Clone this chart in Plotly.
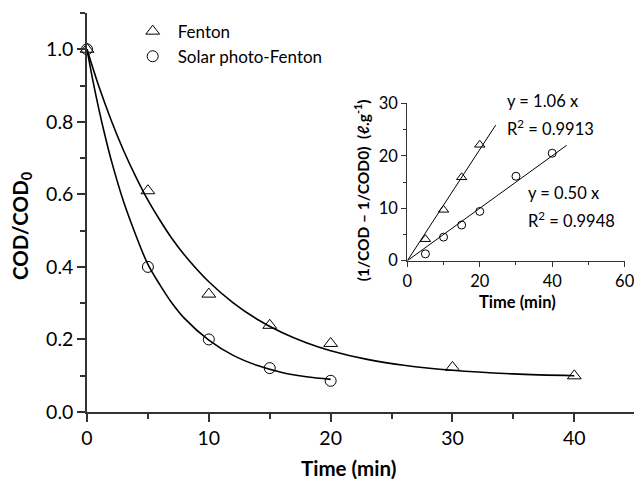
import plotly.graph_objects as go

# ---- main plot data ----
time_fenton = [0, 5, 10, 15, 20, 30, 40]
cod_fenton = [1.0, 0.61, 0.325, 0.239, 0.189, 0.123, 0.0997]
time_solar = [0, 5, 10, 15, 20]
cod_solar = [1.0, 0.40, 0.200, 0.121, 0.086]

# fitted curves
fit_fenton_t = [0, 1, 2, 3, 4, 5, 6, 7, 8, 10, 12, 14, 16, 18, 20, 23, 26, 30, 35, 40]
fit_fenton_y = [1.0, 0.895, 0.803, 0.721, 0.649, 0.584, 0.528, 0.477, 0.433, 0.359, 0.301,
                0.255, 0.219, 0.191, 0.169, 0.145, 0.129, 0.115, 0.105, 0.100]
fit_solar_t = [0, 0.5, 1, 1.5, 2, 3, 4, 5, 6, 7, 8, 10, 12, 14, 16, 18, 20]
fit_solar_y = [1.0, 0.911, 0.831, 0.759, 0.693, 0.580, 0.488, 0.407, 0.350, 0.299, 0.258,
               0.198, 0.156, 0.128, 0.109, 0.097, 0.090]

# ---- inset data ----
inset_t_fenton = [5, 10, 15, 20]
inset_v_fenton = [4.1, 9.7, 15.9, 22.1]
inset_t_solar = [5, 10, 15, 20, 30, 40]
inset_v_solar = [1.3, 4.5, 6.8, 9.4, 16.1, 20.5]
slope_fenton = 1.06
slope_solar = 0.50
line_t_fenton = [0, 24.4]
line_t_solar = [0, 44]

main_xticks = [0, 10, 20, 30, 40]
main_yticks = [0, 0.2, 0.4, 0.6, 0.8, 1.0]
inset_xticks = [0, 20, 40, 60]
inset_yticks = [0, 10, 20, 30]

FONT = "Lato"
AX = "#333333"

fig = go.Figure()

fig.add_trace(go.Scatter(x=fit_fenton_t, y=fit_fenton_y, mode="lines", line=dict(color="black", width=1.6, shape="spline"),
                         showlegend=False, hoverinfo="skip"))
fig.add_trace(go.Scatter(x=fit_solar_t, y=fit_solar_y, mode="lines", line=dict(color="black", width=1.6, shape="spline"),
                         showlegend=False, hoverinfo="skip"))
fig.add_trace(go.Scatter(x=time_fenton, y=cod_fenton, mode="markers", name="Fenton",
                         marker=dict(symbol="triangle-up-open", size=12, color="black", line=dict(width=1)),
                         cliponaxis=False))
fig.add_trace(go.Scatter(x=time_solar, y=cod_solar, mode="markers", name="Solar photo-Fenton",
                         marker=dict(symbol="circle-open", size=11, color="black", line=dict(width=1)),
                         cliponaxis=False))

# inset
fig.add_trace(go.Scatter(x=line_t_fenton, y=[slope_fenton * t for t in line_t_fenton], mode="lines",
                         line=dict(color="black", width=1), xaxis="x2", yaxis="y2", showlegend=False))
fig.add_trace(go.Scatter(x=line_t_solar, y=[slope_solar * t for t in line_t_solar], mode="lines",
                         line=dict(color="black", width=1), xaxis="x2", yaxis="y2", showlegend=False))
fig.add_trace(go.Scatter(x=inset_t_fenton, y=inset_v_fenton, mode="markers",
                         marker=dict(symbol="triangle-up-open", size=9, color="black", line=dict(width=1)),
                         xaxis="x2", yaxis="y2", showlegend=False, cliponaxis=False))
fig.add_trace(go.Scatter(x=inset_t_solar, y=inset_v_solar, mode="markers",
                         marker=dict(symbol="circle-open", size=8, color="black", line=dict(width=1)),
                         xaxis="x2", yaxis="y2", showlegend=False, cliponaxis=False))

axis_common = dict(showline=True, linecolor=AX, linewidth=1.5, ticks="outside", tickcolor=AX,
                   tickwidth=1.5, showgrid=False, zeroline=False, mirror=False, automargin=False)
inset_common = {**axis_common, "linewidth": 1.2, "tickwidth": 1.2}

fig.update_layout(
    width=634, height=479,
    margin=dict(l=87, r=0, t=13, b=67, autoexpand=False),
    plot_bgcolor="white", paper_bgcolor="white",
    font=dict(family=FONT, color="black"),
    xaxis=dict(range=[0, 44.9], tickvals=main_xticks, ticklen=8,
               tickfont=dict(size=19.5, family=FONT, color="black"),
               minor=dict(dtick=5, ticks="outside", ticklen=5, tickcolor=AX, tickwidth=1.5),
               **axis_common),
    yaxis=dict(range=[0, 1.1], tickvals=main_yticks, tickformat=".1f", ticklen=8,
               tickfont=dict(size=19.5, family=FONT, color="black"),
               minor=dict(dtick=0.1, ticks="outside", ticklen=5, tickcolor=AX, tickwidth=1.5),
               **axis_common),
    xaxis2=dict(domain=[0.5856, 0.9832], anchor="y2", range=[0, 60.05], tickvals=inset_xticks, ticklen=5,
                tickfont=dict(size=16.5, family=FONT, color="black"), ticklabeloverflow="allow",
                minor=dict(dtick=10, ticks="outside", ticklen=3, tickcolor=AX, tickwidth=1.2),
                **inset_common),
    yaxis2=dict(domain=[0.3792, 0.7739], anchor="x2", range=[0, 30.03], tickvals=inset_yticks, ticklen=5,
                tickfont=dict(size=16.5, family=FONT, color="black"), ticklabeloverflow="allow",
                minor=dict(dtick=5, ticks="outside", ticklen=3, tickcolor=AX, tickwidth=1.2),
                **inset_common),
    legend=dict(x=0.0744, y=0.9985, xanchor="left", yanchor="top", bgcolor="rgba(0,0,0,0)",
                font=dict(size=17, family=FONT, color="black"), itemwidth=40),
)

ann = [
    dict(text="<b>Time (min)</b>", x=0.4777, y=-0.1404, xanchor="center", yanchor="middle",
         font=dict(size=20.5)),
    dict(text="<b>COD/COD<sub>0</sub></b>", x=-0.1188, y=0.4662, textangle=-90, xanchor="center",
         yanchor="middle", font=dict(size=20.5)),
    dict(text="<b>Time (min)</b>", x=0.787, y=0.2757, xanchor="center", yanchor="middle",
         font=dict(size=16.5)),
    dict(text="<b>(1/COD \u2013 1/COD0)\u00a0\u00a0(\u2113.g<sup>-1</sup>)</b>", x=0.5033, y=0.5564,
         textangle=-90, xanchor="center", yanchor="middle", font=dict(size=15.5)),
    dict(text="y = 1.06 x", x=0.7642, y=0.7802, xanchor="left", yanchor="middle", font=dict(size=16.5)),
    dict(text="R<sup>2</sup> = 0.9913", x=0.7642, y=0.711, xanchor="left", yanchor="middle", font=dict(size=16.5)),
    dict(text="y = 0.50 x", x=0.8026, y=0.5481, xanchor="left", yanchor="middle", font=dict(size=16.5)),
    dict(text="R<sup>2</sup> = 0.9948", x=0.8026, y=0.4812, xanchor="left", yanchor="middle", font=dict(size=16.5)),
]
for a in ann:
    a.update(xref="paper", yref="paper", showarrow=False)
    a["font"] = dict(family=FONT, color="black", **a["font"])
fig.update_layout(annotations=ann)

fig.write_html("out.html")
